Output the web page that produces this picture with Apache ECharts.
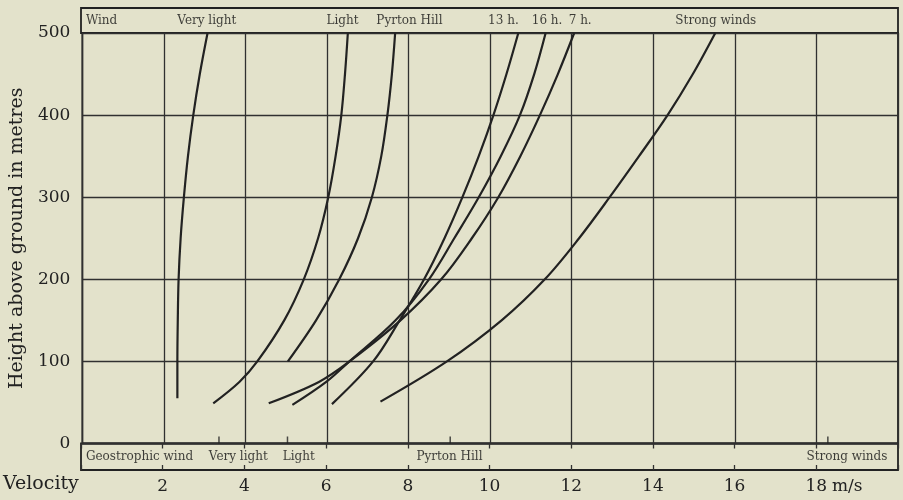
<!DOCTYPE html>
<html><head><meta charset="utf-8">
<script src="https://cdn.jsdelivr.net/npm/echarts@6/dist/echarts.min.js"></script>
<style>html,body{margin:0;padding:0;background:#e3e2cb}#c{width:903px;height:500px}</style>
</head><body><div id="c"></div>
<script>
// Wind velocity (m/s) vs height above ground (m)
const veryLight = [[2.33,55],[2.33,100],[2.34,150],[2.36,200],[2.41,250],[2.49,300],[2.59,350],[2.72,400],[2.88,450],[3.07,500]];
const light = [[3.21,49],[3.85,75],[4.29,100],[4.95,150],[5.43,200],[5.78,250],[6.03,300],[6.21,350],[6.35,400],[6.44,450],[6.51,500]];
const pyrtonHill = [[5.04,100],[5.73,150],[6.30,200],[6.76,250],[7.10,300],[7.33,350],[7.48,400],[7.59,450],[7.67,500]];
const h13 = [[6.12,48],[7.13,100],[7.78,150],[8.38,200],[8.88,250],[9.32,300],[9.72,350],[10.08,400],[10.40,450],[10.69,500]];
const h16 = [[5.15,47],[5.98,75],[6.55,100],[7.68,150],[8.50,200],[9.12,250],[9.72,300],[10.26,350],[10.73,400],[11.08,450],[11.36,500]];
const h7 = [[4.57,49],[5.8,75],[6.55,100],[7.80,150],[8.80,200],[9.55,250],[10.2,300],[10.74,350],[11.22,400],[11.66,450],[12.06,500]];
const strong = [[7.31,51],[8.94,100],[10.28,150],[11.34,200],[12.18,250],[12.93,300],[13.65,350],[14.35,400],[14.97,450],[15.52,500]];

// Geostrophic wind values marked on the base line
const geostrophic = [3.35, 5.03, 9.02, 18.28];

// Labels in the top band (curve names) and their velocity anchors
const topLabels = ['Wind','Very light','Light','Pyrton Hill','13 h.','16 h.','7 h.','Strong winds'];
const topLabelX = [0.12, 3.08, 6.4, 8.04, 10.34, 11.41, 12.22, 15.54];
// Labels in the bottom band (geostrophic winds)
const bottomLabels = ['Geostrophic wind','Very light','Light','Pyrton Hill','Strong winds'];
const bottomLabelX = [0.12, 3.85, 5.33, 9.02, 18.75];

const xTickLabels = {2:'2',4:'4',6:'6',8:'8',10:'10',12:'12',14:'14',16:'16',18:'18'};
const yTickLabels = {0:'0',100:'100',200:'200',300:'300',400:'400',500:'500'};

const INK = '#222222';
const FONT = 'DejaVu Serif';
const chart = echarts.init(document.getElementById('c'));

const curves = [veryLight, light, pyrtonHill, h13, h16, h7, strong];
const curveSeries = curves.map(d => ({
  type: 'line', xAxisIndex: 0, yAxisIndex: 0, data: d, smooth: 0.35,
  symbol: 'none', lineStyle: {color: INK, width: 2.2}, silent: true, z: 5
}));

function bandLabels(names, xs, xi, yi) {
  return {
    type: 'scatter', xAxisIndex: xi, yAxisIndex: yi, symbolSize: 1,
    itemStyle: {color: 'rgba(0,0,0,0)'}, silent: true,
    data: names.map((n, i) => ({
      name: n, value: [xs[i], 0.5],
      label: {align: i === 0 ? 'left' : 'center'}
    })),
    label: {show: true, position: 'inside', formatter: p => p.name,
      color: '#111', fontFamily: FONT, fontSize: 12}
  };
}

const gridStyle = {show: true, borderColor: INK, borderWidth: 1.8, backgroundColor: 'transparent'};

chart.setOption({
  backgroundColor: '#e3e2cb',
  animation: false,
  grid: [
    Object.assign({left: 81, right: 5, top: 33, height: 410.5}, gridStyle),
    Object.assign({left: 81, right: 5, top: 8, height: 25}, gridStyle),
    Object.assign({left: 81, right: 5, top: 443.5, height: 26.5}, gridStyle)
  ],
  xAxis: [
    {gridIndex: 0, type: 'value', min: 0, max: 20, interval: 2,
      axisLine: {show: false}, axisTick: {show: false}, axisLabel: {show: false},
      splitLine: {show: true, lineStyle: {color: '#303030', width: 1.3}}},
    {gridIndex: 1, type: 'value', min: 0, max: 20, show: false},
    {gridIndex: 2, type: 'value', min: 0, max: 20, interval: 2, position: 'bottom',
      axisLine: {show: false}, splitLine: {show: false},
      axisTick: {show: true, inside: true, length: 5, lineStyle: {color: '#303030', width: 1.3}},
      axisLabel: {show: true, margin: 8, color: INK, fontFamily: FONT, fontSize: 17,
        formatter: v => xTickLabels[v] || ''}},
    {gridIndex: 2, type: 'value', min: 0, max: 20, interval: 2, position: 'top',
      axisLine: {show: false}, splitLine: {show: false}, axisLabel: {show: false},
      axisTick: {show: true, inside: true, length: 5, lineStyle: {color: '#303030', width: 1.3}}}
  ],
  yAxis: [
    {gridIndex: 0, type: 'value', min: 0, max: 500, interval: 100,
      axisLine: {show: false}, axisTick: {show: false},
      axisLabel: {margin: 12, color: INK, fontFamily: FONT, fontSize: 17,
        formatter: v => yTickLabels[v] || ''},
      splitLine: {show: true, lineStyle: {color: '#303030', width: 1.3}},
      name: 'Height above ground in metres', nameLocation: 'middle', nameGap: 52,
      nameTextStyle: {color: INK, fontFamily: FONT, fontSize: 19}},
    {gridIndex: 1, type: 'value', min: 0, max: 1, show: false},
    {gridIndex: 2, type: 'value', min: 0, max: 1, show: false}
  ],
  graphic: [
    {type: 'text', left: 3, top: 475, style: {text: 'Velocity', fill: INK, font: '19px "DejaVu Serif"'}},
    {type: 'text', left: 832, top: 478, style: {text: 'm/s', fill: INK, font: '17px "DejaVu Serif"'}}
  ],
  series: curveSeries.concat([
    {type: 'scatter', xAxisIndex: 0, yAxisIndex: 0, symbol: 'rect',
      symbolSize: [1.5, 7], symbolOffset: [0, -3.5], silent: true,
      itemStyle: {color: INK}, data: geostrophic.map(v => [v, 0]), z: 6},
    bandLabels(topLabels, topLabelX, 1, 1),
    bandLabels(bottomLabels, bottomLabelX, 2, 2)
  ])
});
</script></body></html>
